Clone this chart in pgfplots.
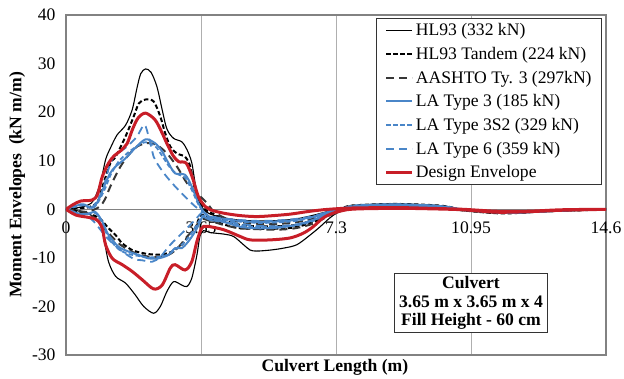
\documentclass[border=0pt]{standalone}
\usepackage{fontspec}
\setmainfont{Liberation Serif}
\usepackage{pgfplots}
\pgfplotsset{compat=1.18}
\usetikzlibrary{calc}
\definecolor{lablue}{RGB}{74,134,200}
\definecolor{envred}{RGB}{200,30,40}
\definecolor{framegray}{RGB}{130,130,130}
\definecolor{gridgray}{RGB}{175,175,175}
\definecolor{dkgray}{RGB}{55,55,55}
\begin{document}
\begin{tikzpicture}
\begin{axis}[
  scale only axis, width=540bp, height=340bp,
  xmin=0, xmax=14.6, ymin=-30, ymax=40,
  axis line style={draw=framegray, line width=1.2bp},
  xtick={0,3.65,7.3,10.95,14.6},
  xticklabels={0,3.65,7.3,10.95,14.6},
  ytick={-30,-20,...,40},
  major tick length=0pt,
  xmajorgrids, grid style={gridgray, line width=0.8bp},
  extra y ticks={0}, extra y tick labels={},
  extra y tick style={grid=major, major grid style={framegray, line width=1.2bp}},
  tick label style={font=\fontsize{17.6bp}{20bp}\selectfont},
  /pgf/number format/assume math mode=true,
  xticklabel style={yshift=137bp},
  yticklabel style={xshift=-7bp},
  xlabel={Culvert Length (m)},
  ylabel={Moment Envelopes\ \ (kN m/m)},
  label style={font=\bfseries\fontsize{17.6bp}{20bp}\selectfont},
  xlabel style={at={(axis description cs:0.498,0)}, anchor=north, yshift=-1bp},
  legend style={at={(rel axis cs:0.9926,0.991)}, anchor=north east, draw=black!80, line width=0.8bp,
    font=\fontsize{17.6bp}{20bp}\selectfont, inner xsep=8bp, inner ysep=3bp, row sep=6bp, cells={anchor=west}},
  legend image code/.code={\draw[#1] (0bp,0bp) -- (26bp,0bp);},
]
\addplot[black, line width=1.1bp, smooth] coordinates {
(0,0) (0.3,0.3) (0.6,0.9) (0.75,1.9) (0.93,5.4) (1.07,10.2) (1.20,12.6) (1.38,15.3) (1.61,17.3) (1.79,20.5) (1.92,25.0) (2.02,27.9) (2.15,28.9) (2.30,28.2) (2.46,25.2) (2.60,20.5) (2.73,16.5) (2.91,14.6) (3.13,13.9) (3.27,12.3) (3.40,9.6) (3.49,5.4) (3.58,1.9) (3.72,0.0) (3.90,-1.0) (4.3,-1.8) (4.8,-2.3) (5.5,-2.4) (6.2,-2.0) (6.7,-1.2) (7.1,-0.4) (7.6,0.5) (8.0,0.9) (8.9,1.1) (9.8,0.9) (10.3,0.6) (10.7,0.0) (11.6,-0.6) (12.1,-0.7) (13.0,-0.3) (13.9,-0.1) (14.6,0)
(13.9,-0.2) (13.0,-0.5) (12.1,-0.8) (11.6,-0.7) (10.7,-0.2) (10.3,0.3) (9.8,0.6) (8.9,0.8) (8.0,0.6) (7.6,-0.1) (7.32,-0.8) (7.13,-1.8) (6.87,-3.6) (6.60,-5.3) (6.24,-7.3) (5.88,-8.0) (5.52,-8.4) (5.16,-8.6) (4.98,-8.4) (4.80,-7.3) (4.53,-5.6) (4.26,-5.1) (3.90,-4.8) (3.72,-4.4) (3.62,-5.6) (3.54,-9.4) (3.40,-14.2) (3.27,-15.9) (3.13,-15.6) (2.91,-14.9) (2.73,-16.9) (2.55,-20.0) (2.37,-21.4) (2.10,-20.0) (1.87,-17.6) (1.61,-15.2) (1.34,-13.8) (1.15,-10.8) (1.02,-5.9) (0.89,-2.5) (0.6,-0.9) (0.3,-0.3) (0,0)
};
\addlegendentry{HL93 (332 kN)}
\addplot[black, line width=2bp, dash pattern=on 4.5bp off 2.5bp, smooth] coordinates {
(0,0) (0.3,0.2) (0.6,0.4) (0.85,1.5) (1.0,5.0) (1.2,9.5) (1.34,10.8) (1.61,15.0) (1.83,19.1) (1.97,21.8) (2.15,22.6) (2.37,22.2) (2.55,19.1) (2.68,15.7) (2.82,12.9) (3.00,11.5) (3.22,10.8) (3.36,8.8) (3.49,4.0) (3.63,1.3) (3.8,-0.3) (4.0,-1.0) (4.26,-2.2) (4.71,-3.2) (5.16,-3.5) (5.70,-3.5) (6.24,-3.2) (6.68,-2.2) (7.13,-0.8) (7.6,0.6) (8.0,0.9) (8.9,1.1) (9.8,0.9) (10.3,0.6) (10.7,-0.1) (11.6,-0.7) (12.1,-0.7) (13.0,-0.3) (13.9,-0.1) (14.6,0)
(13.9,-0.2) (13.0,-0.4) (12.1,-0.8) (11.6,-0.8) (10.7,-0.2) (10.3,0.4) (9.8,0.7) (8.9,0.9) (8.0,0.7) (7.6,0.2) (7.2,-0.9) (6.7,-2.6) (6.2,-3.7) (5.7,-4.0) (5.2,-4.0) (4.7,-3.9) (4.3,-3.2) (3.9,-2.0) (3.65,-1.2) (3.49,-3.9) (3.31,-5.5) (3.13,-7.3) (2.87,-8.7) (2.60,-9.3) (2.33,-9.3) (2.06,-9.0) (1.79,-8.4) (1.52,-7.0) (1.34,-5.3) (1.15,-3.9) (0.9,-1.8) (0.6,-0.9) (0.3,-0.4) (0,0)
};
\addlegendentry{HL93 Tandem (224 kN)}
\addplot[dkgray, line width=2bp, dash pattern=on 8bp off 5bp, smooth] coordinates {
(0,0) (0.3,-0.3) (0.6,-0.5) (0.9,0.5) (1.05,2.0) (1.20,4.7) (1.42,8.1) (1.65,10.8) (1.92,12.9) (2.19,13.6) (2.46,13.2) (2.73,11.5) (3.00,8.8) (3.27,5.4) (3.54,3.3) (3.81,1.3) (4.0,-0.5) (4.3,-1.8) (4.7,-2.6) (5.2,-3.0) (5.7,-3.0) (6.2,-2.7) (6.7,-1.8) (7.1,-0.6) (7.6,0.5) (8.0,0.8) (8.9,1.0) (9.8,0.8) (10.3,0.5) (10.7,0.0) (11.6,-0.6) (12.1,-0.6) (13.0,-0.3) (13.9,-0.1) (14.6,0)
(13.9,-0.2) (13.0,-0.4) (12.1,-0.7) (11.6,-0.7) (10.7,-0.2) (10.3,0.3) (9.8,0.6) (8.9,0.8) (8.0,0.6) (7.6,0.1) (7.2,-1.0) (6.7,-2.9) (6.2,-3.9) (5.7,-4.2) (5.2,-4.1) (4.7,-3.9) (4.3,-3.3) (3.9,-2.4) (3.65,-2.0) (3.49,-3.9) (3.31,-5.3) (3.18,-6.5) (3.04,-7.8) (2.82,-9.2) (2.55,-9.8) (2.19,-9.7) (1.83,-8.9) (1.47,-7.3) (1.2,-5.3) (0.93,-3.0) (0.6,-0.8) (0.3,-0.4) (0,0)
};
\addlegendentry{AASHTO Ty. 3 (297kN)}
\addplot[lablue, line width=2bp, smooth] coordinates {
(0,0) (0.3,0.8) (0.5,0.9) (0.7,0.3) (0.85,1.5) (1.07,5.4) (1.2,7.5) (1.34,8.8) (1.61,10.5) (1.87,12.6) (2.15,14.4) (2.41,13.6) (2.60,11.9) (2.77,9.5) (2.95,7.4) (3.22,7.1) (3.40,4.7) (3.58,1.3) (3.75,-0.8) (3.9,-1.6) (4.3,-2.0) (4.7,-2.4) (5.2,-2.6) (5.7,-2.5) (6.2,-2.2) (6.7,-1.5) (7.1,-0.5) (7.6,0.4) (8.0,0.8) (8.9,1.0) (9.8,0.8) (10.3,0.5) (10.7,0.0) (11.6,-0.5) (12.1,-0.6) (13.0,-0.3) (13.9,-0.1) (14.6,0)
(13.9,-0.1) (13.0,-0.4) (12.1,-0.7) (11.6,-0.6) (10.7,-0.1) (10.3,0.3) (9.8,0.6) (8.9,0.8) (8.0,0.6) (7.6,0.0) (7.13,-0.8) (6.68,-2.2) (6.24,-3.2) (5.70,-3.8) (5.16,-3.9) (4.71,-3.6) (4.26,-2.6) (3.90,-2.2) (3.7,-1.5) (3.63,-2.5) (3.49,-4.6) (3.31,-6.6) (3.13,-8.0) (2.95,-8.0) (2.77,-9.4) (2.50,-10.1) (2.23,-10.1) (1.96,-9.4) (1.69,-8.7) (1.42,-7.7) (1.15,-5.3) (0.98,-2.5) (0.8,-0.6) (0.6,-0.9) (0.4,-1.0) (0.2,-0.5) (0,0)
};
\addlegendentry{LA Type 3 (185 kN)}
\addplot[lablue, line width=1.8bp, dash pattern=on 4.5bp off 2.5bp, smooth] coordinates {
(0,0) (0.3,0.6) (0.5,0.8) (0.7,0.2) (0.85,1.2) (1.07,4.5) (1.2,7.0) (1.42,9.8) (1.65,11.5) (1.92,13.0) (2.15,13.8) (2.41,13.0) (2.60,11.0) (2.82,8.5) (3.0,7.3) (3.22,6.5) (3.40,4.0) (3.58,1.0) (3.75,-0.8) (4.0,-1.8) (4.5,-2.4) (5.2,-2.8) (5.7,-2.7) (6.2,-2.4) (6.7,-1.6) (7.1,-0.6) (7.6,0.5) (8.0,0.9) (8.9,1.0) (9.8,0.8) (10.3,0.5) (10.7,0.0) (11.6,-0.6) (12.1,-0.6) (13.0,-0.3) (13.9,-0.1) (14.6,0)
(13.9,-0.1) (13.0,-0.4) (12.1,-0.7) (11.6,-0.6) (10.7,-0.1) (10.3,0.3) (9.8,0.6) (8.9,0.8) (8.0,0.6) (7.6,0.0) (7.13,-0.9) (6.68,-2.4) (6.24,-3.3) (5.70,-3.6) (5.16,-3.6) (4.71,-3.3) (4.26,-2.5) (3.9,-1.9) (3.7,-1.3) (3.63,-2.0) (3.49,-3.8) (3.31,-5.8) (3.13,-7.3) (2.95,-8.3) (2.77,-9.3) (2.5,-9.8) (2.23,-9.9) (1.96,-9.6) (1.69,-9.2) (1.42,-8.2) (1.15,-5.8) (0.98,-3.0) (0.8,-0.8) (0.6,-1.0) (0.4,-1.1) (0.2,-0.6) (0,0)
};
\addlegendentry{LA Type 3S2 (329 kN)}
\addplot[lablue, line width=1.8bp, dash pattern=on 8bp off 5bp, smooth] coordinates {
(0,0) (0.3,0.9) (0.5,1.0) (0.7,0.4) (0.9,2.5) (1.02,4.7) (1.2,9.5) (1.35,11.2) (1.65,12.9) (1.92,15.0) (2.12,17.4) (2.25,14.5) (2.37,10.8) (2.46,9.5) (2.68,7.1) (2.95,4.7) (3.22,2.6) (3.49,0.6) (3.7,-0.5) (3.9,-1.4) (4.3,-1.9) (4.7,-2.2) (5.2,-2.4) (5.7,-2.3) (6.2,-2.0) (6.7,-1.4) (7.1,-0.5) (7.6,0.4) (8.0,0.8) (8.9,1.0) (9.8,0.8) (10.3,0.5) (10.7,0.0) (11.6,-0.5) (12.1,-0.6) (13.0,-0.3) (13.9,-0.1) (14.6,0)
(13.9,-0.1) (13.0,-0.4) (12.1,-0.7) (11.6,-0.6) (10.7,-0.1) (10.3,0.3) (9.8,0.6) (8.9,0.8) (8.0,0.6) (7.6,0.0) (7.13,-0.9) (6.68,-2.3) (6.24,-3.1) (5.70,-3.5) (5.16,-3.4) (4.71,-3.0) (4.26,-2.4) (3.9,-1.8) (3.72,-0.5) (3.45,-2.5) (3.18,-4.6) (2.82,-7.3) (2.55,-9.8) (2.33,-10.8) (2.06,-10.5) (1.83,-10.2) (1.47,-8.4) (1.11,-5.9) (0.75,-2.5) (0.5,-1.1) (0.3,-0.9) (0,0)
};
\addlegendentry{LA Type 6 (359 kN)}
\addplot[envred, line width=3bp, smooth] coordinates {
(0,0) (0.2,1.0) (0.4,1.7) (0.7,1.9) (0.85,3.0) (0.98,6.7) (1.15,9.5) (1.3,11.0) (1.47,12.0) (1.65,13.5) (1.8,16.5) (1.95,18.8) (2.15,19.8) (2.41,18.4) (2.60,15.7) (2.73,13.5) (2.9,11.0) (3.05,9.8) (3.25,9.5) (3.42,6.5) (3.58,2.6) (3.76,0.6) (3.9,-0.1) (4.26,-0.8) (4.71,-1.3) (5.16,-1.5) (5.61,-1.3) (6.06,-1.0) (6.51,-0.5) (6.95,-0.1) (7.5,0.2) (8.0,0.3) (9.0,0.35) (9.83,0.2) (10.73,0.0) (11.63,-0.4) (12.5,-0.4) (13.4,-0.1) (14.6,0)
(13.4,-0.2) (12.5,-0.5) (11.63,-0.6) (10.73,-0.1) (9.83,0.1) (9.0,0.2) (8.0,0.1) (7.59,-0.1) (7.22,-0.8) (6.95,-1.8) (6.68,-3.6) (6.42,-4.9) (6.06,-5.9) (5.52,-6.3) (4.98,-6.3) (4.71,-5.6) (4.26,-4.2) (3.81,-3.5) (3.67,-3.9) (3.54,-6.6) (3.40,-10.8) (3.22,-12.5) (2.95,-11.4) (2.82,-12.1) (2.60,-15.6) (2.37,-16.4) (2.06,-14.5) (1.79,-12.8) (1.52,-11.4) (1.25,-10.1) (1.07,-7.3) (0.98,-3.9) (0.84,-2.2) (0.63,-1.7) (0.27,-1.2) (0,0)
};
\addlegendentry{Design Envelope}
\node[draw=black!80, line width=0.8bp, fill=white, align=center, font=\bfseries\fontsize{17.6bp}{18.5bp}\selectfont, inner xsep=5bp, inner ysep=3bp] at (axis cs:10.95,-19.3) {Culvert\\3.65 m x 3.65 m x 4\\Fill Height - 60 cm};
\end{axis}
\pgfresetboundingbox
\path[use as bounding box] ($(current axis.south west)+(-66bp,-24bp)$) rectangle ($(current axis.north east)+(18bp,15bp)$);
\end{tikzpicture}
\end{document}
